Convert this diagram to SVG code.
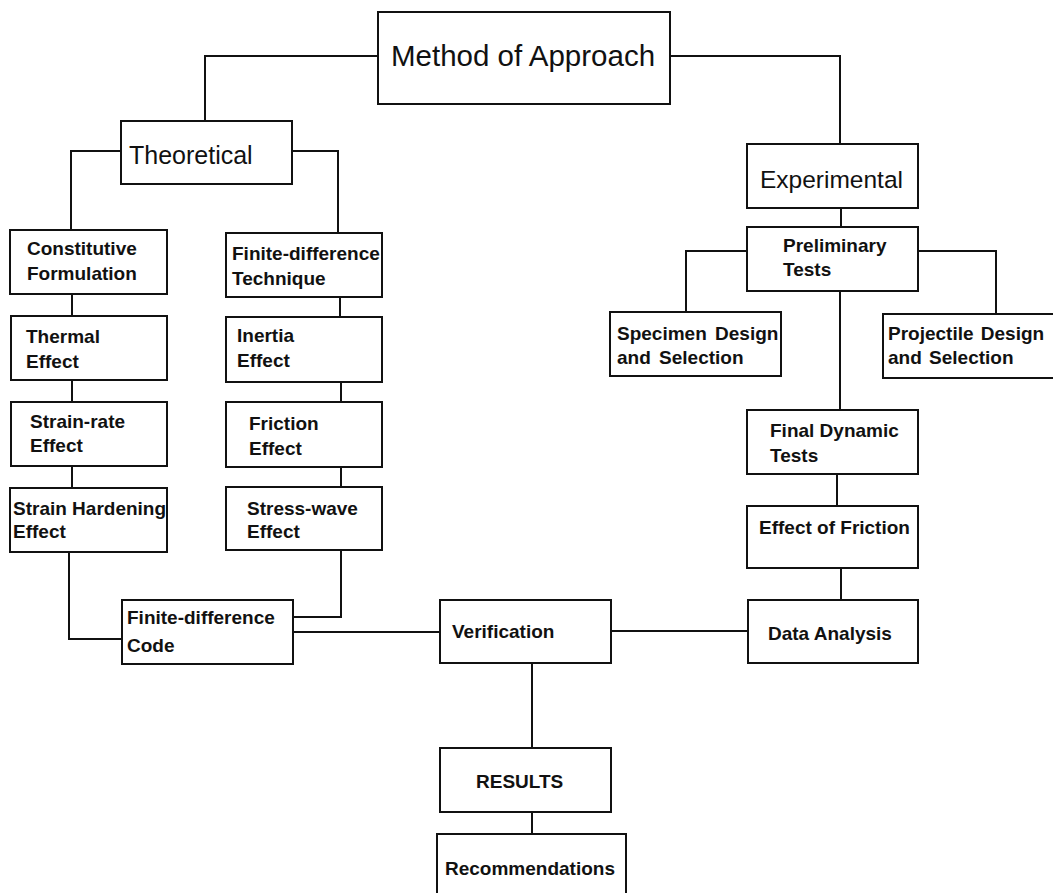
<svg xmlns="http://www.w3.org/2000/svg" width="1053" height="893" viewBox="0 0 1053 893">
<style>
rect{fill:#fff;stroke:#111;stroke-width:2}
path{fill:none;stroke:#111;stroke-width:2}
text{font-family:"Liberation Sans",Arial,sans-serif;fill:#111}
.s{font-size:19px;font-weight:bold}
.t{font-size:25px}
</style>
<rect x="0" y="0" width="1053" height="893" style="stroke:none"/>
<g id="connectors">
<path d="M378 56H205V121"/>
<path d="M670 56H840V144"/>
<path d="M121 151H71V230"/>
<path d="M292 151H338V233"/>
<path d="M72 294V316M72 380V402M72 466V488"/>
<path d="M340 297V317M341 382V402M341 467V487"/>
<path d="M69 552V639H122"/>
<path d="M341 550V617H293"/>
<path d="M293 632H440"/>
<path d="M611 631H748"/>
<path d="M532 663V748"/>
<path d="M532 812V834"/>
<path d="M841 208V227"/>
<path d="M747 251H686V312"/>
<path d="M918 251H996V314"/>
<path d="M840 291V410"/>
<path d="M837 474V506"/>
<path d="M841 568V600"/>
</g>
<g id="method"><rect x="378" y="12" width="292" height="92"/><text x="391" y="66" style="font-size:29.5px">Method of Approach</text></g>
<g id="theoretical"><rect x="121" y="121" width="171" height="63"/><text x="129" y="164" class="t">Theoretical</text></g>
<g id="experimental"><rect x="747" y="144" width="171" height="64"/><text x="760" y="188" class="t" style="font-size:24.5px">Experimental</text></g>
<g id="preliminary"><rect x="747" y="227" width="171" height="64"/><text x="783" y="252" class="s">Preliminary</text><text x="783" y="276" class="s">Tests</text></g>
<g id="specimen"><rect x="610" y="312" width="171" height="64"/><text x="617" y="340" class="s" word-spacing="3">Specimen Design</text><text x="617" y="364" class="s" word-spacing="3">and Selection</text></g>
<g id="projectile"><rect x="883" y="314" width="180" height="64"/><text x="888" y="340" class="s" word-spacing="2">Projectile Design</text><text x="888" y="364" class="s" word-spacing="2">and Selection</text></g>
<g id="final"><rect x="747" y="410" width="171" height="64"/><text x="770" y="437" class="s">Final Dynamic</text><text x="770" y="462" class="s">Tests</text></g>
<g id="friction"><rect x="747" y="506" width="171" height="62"/><text x="759" y="534" class="s">Effect of Friction</text></g>
<g id="data"><rect x="748" y="600" width="170" height="63"/><text x="768" y="640" class="s">Data Analysis</text></g>
<g id="verification"><rect x="440" y="600" width="171" height="63"/><text x="452" y="638" class="s">Verification</text></g>
<g id="results"><rect x="440" y="748" width="171" height="64"/><text x="476" y="788" class="s">RESULTS</text></g>
<g id="recommendations"><rect x="437" y="834" width="189" height="70"/><text x="445" y="875" class="s">Recommendations</text></g>
<g id="code"><rect x="122" y="600" width="171" height="64"/><text x="127" y="624" class="s">Finite-difference</text><text x="127" y="652" class="s">Code</text></g>
<g id="constitutive"><rect x="10" y="230" width="157" height="64"/><text x="27" y="255" class="s">Constitutive</text><text x="27" y="280" class="s">Formulation</text></g>
<g id="thermal"><rect x="11" y="316" width="156" height="64"/><text x="26" y="343" class="s">Thermal</text><text x="26" y="368" class="s">Effect</text></g>
<g id="strainrate"><rect x="11" y="402" width="156" height="64"/><text x="30" y="428" class="s">Strain-rate</text><text x="30" y="452" class="s">Effect</text></g>
<g id="hardening"><rect x="10" y="488" width="157" height="64"/><text x="13" y="515" class="s">Strain Hardening</text><text x="13" y="538" class="s">Effect</text></g>
<g id="fdtechnique"><rect x="226" y="233" width="156" height="64"/><text x="232" y="260" class="s">Finite-difference</text><text x="232" y="285" class="s">Technique</text></g>
<g id="inertia"><rect x="226" y="317" width="156" height="65"/><text x="237" y="342" class="s">Inertia</text><text x="237" y="367" class="s">Effect</text></g>
<g id="frictioneffect"><rect x="226" y="402" width="156" height="65"/><text x="249" y="430" class="s">Friction</text><text x="249" y="455" class="s">Effect</text></g>
<g id="stresswave"><rect x="226" y="487" width="156" height="63"/><text x="247" y="515" class="s">Stress-wave</text><text x="247" y="538" class="s">Effect</text></g>
</svg>
